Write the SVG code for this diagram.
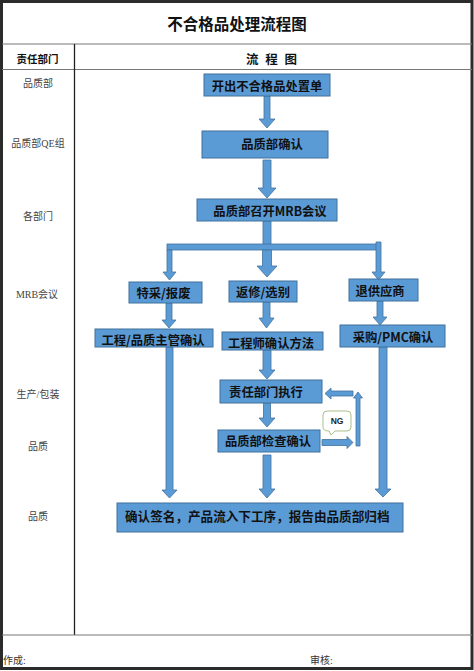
<svg xmlns="http://www.w3.org/2000/svg" width="474" height="671" viewBox="0 0 474 671">
<style>
.box{fill:#5b9bd5;stroke:#41719c;stroke-width:1}
.arr{fill:#5b9bd5;stroke:#41719c;stroke-width:0.8}
.bt{font-family:"Noto Sans CJK SC","Liberation Sans",sans-serif;font-weight:bold;font-size:12.3px;fill:#111;text-anchor:middle;dominant-baseline:central}
.lab{font-family:"Liberation Serif","Noto Sans CJK SC",serif;font-size:10px;fill:#444;text-anchor:middle;dominant-baseline:central}
.grid{stroke:#777;stroke-width:1;fill:none}
</style>
<rect x="0" y="0" width="474" height="671" fill="#fff"/>
<g id="frame">
<rect x="1.5" y="1.5" width="470.5" height="667" fill="none" stroke="#2b2b2b" stroke-width="3"/>
<line x1="2" y1="44" x2="472" y2="44" class="grid"/>
<line x1="2" y1="69.5" x2="472" y2="69.5" class="grid" stroke="#999"/>
<line x1="74.5" y1="44" x2="74.5" y2="635" stroke="#222" stroke-width="1.3"/>
<line x1="2" y1="635" x2="472" y2="635" class="grid"/>
<text x="237" y="23" font-family="Noto Sans CJK SC,sans-serif" font-size="15.5" font-weight="bold" fill="#111" text-anchor="middle" dominant-baseline="central">不合格品处理流程图</text>
<text x="37.5" y="58" font-family="Noto Sans CJK SC,sans-serif" font-size="10.5" font-weight="bold" fill="#111" text-anchor="middle" dominant-baseline="central">责任部门</text>
<text x="272.5" y="58" font-family="Noto Sans CJK SC,sans-serif" font-size="12.5" font-weight="bold" fill="#111" text-anchor="middle" dominant-baseline="central" letter-spacing="2" xml:space="preserve">流 程 图</text>
<text x="3" y="660" font-family="Liberation Serif,Noto Sans CJK SC,serif" font-size="10" fill="#333" dominant-baseline="central">作成:</text>
<text x="310" y="660" font-family="Liberation Serif,Noto Sans CJK SC,serif" font-size="10" fill="#333" dominant-baseline="central">审核:</text>
</g>
<g id="lanes">
<text class="lab" x="38" y="83">品质部</text>
<text class="lab" x="38" y="143">品质部QE组</text>
<text class="lab" x="38" y="216">各部门</text>
<text class="lab" x="37" y="294">MRB会议</text>
<text class="lab" x="38" y="394">生产/包装</text>
<text class="lab" x="38" y="446">品质</text>
<text class="lab" x="38" y="516">品质</text>
</g>
<g id="connectors">
<polygon class="arr" points="264,96 270,96 270,119 275,119 267,128 259,119 264,119"/>
<polygon class="arr" points="263,160 271,160 271,188 276,188 267,198 258,188 263,188"/>
<rect class="arr" x="263" y="221" width="8" height="24"/>
<rect class="arr" x="167" y="244" width="210" height="6"/>
<polygon class="arr" points="167,250 172,250 172,272 176,272 169.5,280 163,272 167,272"/>
<polygon class="arr" points="262.5,250 271.5,250 271.5,266 277,266 267,277 257,266 262.5,266"/>
<polygon class="arr" points="376,242 381,242 381,272 385,272 378.5,280 372,272 376,272"/>
<polygon class="arr" points="166,303 172,303 172,320 176,320 169,328 162,320 166,320"/>
<polygon class="arr" points="263,302 270,302 270,318 274,318 266.5,328 259,318 263,318"/>
<polygon class="arr" points="377,301 383,301 383,317 387,317 380,325 373,317 377,317"/>
<polygon class="arr" points="166,347 173,347 173,490 177,490 169.5,498 162,490 166,490"/>
<polygon class="arr" points="263,350 271,350 271,370 275,370 267,379 259,370 263,370"/>
<polygon class="arr" points="379,347 387,347 387,489 391,489 383,497 375,489 379,489"/>
<polygon class="arr" points="263.5,403 270.5,403 270.5,418 275,418 267,427 259,418 263.5,418"/>
<polygon class="arr" points="263,455 271,455 271,489 275,489 267,498 259,489 263,489"/>
<polygon class="arr" points="322,439.5 347,439.5 347,436.5 353,442.5 347,448.5 347,445.5 322,445.5"/>
<polygon class="arr" points="356,446 360,446 360,398 362.5,398 358,392 353.5,398 356,398"/>
<polygon class="arr" points="353,391 331,391 331,388 325,393.5 331,399 331,396 353,396"/>
</g>
<g id="n1"><rect class="box" x="204" y="74" width="126" height="22"/><text class="bt" x="267" y="85.5">开出不合格品处置单</text></g>
<g id="n2"><rect class="box" x="202" y="131" width="126" height="27"/><text class="bt" x="272" y="144">品质部确认</text></g>
<g id="n3"><rect class="box" x="197" y="199" width="140" height="22"/><text class="bt" x="270" y="211">品质部召开MRB会议</text></g>
<g id="n4"><rect class="box" x="129" y="282" width="73" height="21"/><text class="bt" x="163.5" y="293">特采/报废</text></g>
<g id="n5"><rect class="box" x="229" y="281" width="68" height="21"/><text class="bt" x="263" y="292">返修/选别</text></g>
<g id="n6"><rect class="box" x="349" y="279" width="69" height="22"/><text class="bt" x="380" y="290.5">退供应商</text></g>
<g id="n7"><rect class="box" x="95" y="329" width="118" height="18"/><text class="bt" x="153" y="339.5">工程/品质主管确认</text></g>
<g id="n8"><rect class="box" x="222" y="332" width="101" height="18"/><text class="bt" x="271" y="342.5">工程师确认方法</text></g>
<g id="n9"><rect class="box" x="340" y="325" width="105" height="22"/><text class="bt" x="393" y="336.5">采购/PMC确认</text></g>
<g id="n10"><rect class="box" x="220" y="380" width="102" height="23"/><text class="bt" x="266" y="391.5">责任部门执行</text></g>
<g id="n11"><rect class="box" x="218" y="430" width="102" height="22"/><text class="bt" x="268" y="441">品质部检查确认</text></g>
<g id="n12"><rect class="box" x="117" y="503" width="286" height="29"/><text class="bt" x="125" y="515.5" style="text-anchor:start;font-size:12.6px">确认签名，产品流入下工序，报告由品质部归档</text></g>
<g id="ng">
<path d="M327,411 H347 Q351,411 351,415 V427 Q351,431 347,431 H335 L331,435 L329,431 Q323,431 323,427 V415 Q323,411 327,411 Z" fill="#fff" stroke="#a9c08a" stroke-width="1"/>
<text x="337" y="421" font-family="Liberation Sans,sans-serif" font-size="8.5" font-weight="bold" fill="#222" text-anchor="middle" dominant-baseline="central">NG</text>
</g>
</svg>
